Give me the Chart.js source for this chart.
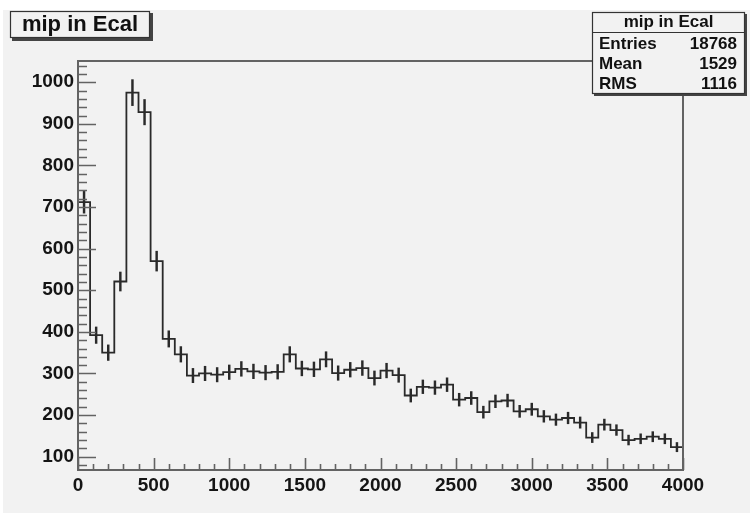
<!DOCTYPE html>
<html>
<head>
<meta charset="utf-8">
<title>mip in Ecal</title>
<script src="https://cdn.jsdelivr.net/npm/chart.js@4.4.1/dist/chart.umd.min.js"></script>
<style>
  html, body { margin: 0; padding: 0; background: #ffffff; }
  #wrap { width: 750px; height: 516px; }
</style>
</head>
<body>
<div id="wrap"><canvas id="myChart" width="750" height="516"></canvas></div>
<script>
// histogramme "mip in Ecal": 50 bins de 0 a 4000
const binWidth = 80;
const counts = [
    712, 392, 350, 521, 975, 928, 570, 383, 346, 295,
    300, 297, 303, 311, 305, 302, 304, 346, 312, 310,
    334, 301, 309, 313, 289, 307, 296, 247, 268, 266,
    273, 237, 241, 207, 233, 235, 209, 214, 197, 189,
    193, 182, 146, 177, 164, 140, 143, 148, 143, 123
];
const xTickLabels = [0, 500, 1000, 1500, 2000, 2500, 3000, 3500, 4000];
const yTickLabels = [100, 200, 300, 400, 500, 600, 700, 800, 900, 1000];
const statsRows = [['Entries', '18768'], ['Mean', '1529'], ['RMS', '1116']];
const histTitle = 'mip in Ecal';

// ligne en escalier: un point par bord gauche + le bord final
const stepPoints = counts.map((c, i) => ({ x: i * binWidth, y: c }));
stepPoints.push({ x: counts.length * binWidth, y: counts[counts.length - 1] });

// barres d'erreur sqrt(N) au centre de chaque bin
const errBars = counts.map((c, i) => ({
    x: i * binWidth + binWidth / 2,
    y: [c - Math.sqrt(c), c + Math.sqrt(c)]
}));

const FONT = '"Liberation Sans", Arial, Helvetica, sans-serif';
const INK = '#2a2a2a';

// fond, cadre, petites graduations, titre et boite de stats a la ROOT
const rootStyle = {
    id: 'rootStyle',
    beforeDraw(chart) {
        const c = chart.ctx;
        c.save();
        c.fillStyle = '#ffffff';
        c.fillRect(0, 0, chart.width, chart.height);
        c.fillStyle = '#f2f2f2';
        c.fillRect(3, 10, chart.width - 3, chart.height - 13);
        c.restore();
    },
    afterDatasetsDraw(chart) {
        const c = chart.ctx;
        const a = chart.chartArea;
        const xs = chart.scales.x, ys = chart.scales.y;
        c.save();
        c.strokeStyle = '#636363';
        c.lineWidth = 2;
        c.strokeRect(a.left, a.top, a.right - a.left, a.bottom - a.top);

        c.lineWidth = 1.6;
        c.beginPath();
        // graduations x (vers l'interieur)
        for (let v = 0; v <= 4000; v += 100) {
            const px = Math.round(xs.getPixelForValue(v)) + 0.5;
            const len = v % 500 === 0 ? 12 : 6;
            c.moveTo(px, a.bottom);
            c.lineTo(px, a.bottom - len);
        }
        // graduations y
        for (let v = 80; v <= 1040; v += 20) {
            const py = Math.round(ys.getPixelForValue(v)) + 0.5;
            const len = v % 100 === 0 ? 18 : 9;
            c.moveTo(a.left, py);
            c.lineTo(a.left + len, py);
        }
        c.stroke();
        c.restore();
    },
    afterDraw(chart) {
        const c = chart.ctx;
        c.save();
        // boite de titre
        c.fillStyle = '#444';
        c.fillRect(12, 13, 141, 28);
        c.fillStyle = '#f2f2f2';
        c.fillRect(10, 11, 140, 27);
        c.strokeStyle = '#333';
        c.lineWidth = 1.2;
        c.strokeRect(10.5, 11.5, 139, 26);
        c.fillStyle = '#111';
        c.font = 'bold 22px ' + FONT;
        c.textAlign = 'center';
        c.textBaseline = 'alphabetic';
        c.fillText(histTitle, 80, 31);

        // boite de statistiques
        const bx = 592, by = 12, bw = 153, bh = 82;
        c.fillStyle = '#444';
        c.fillRect(bx + 2, by + 2, bw, bh);
        c.fillStyle = '#f2f2f2';
        c.fillRect(bx, by, bw, bh);
        c.strokeStyle = '#333';
        c.lineWidth = 1.2;
        c.strokeRect(bx + 0.5, by + 0.5, bw - 1, bh - 1);
        c.beginPath();
        c.moveTo(bx, 32.5);
        c.lineTo(bx + bw, 32.5);
        c.stroke();
        c.fillStyle = '#111';
        c.font = 'bold 17px ' + FONT;
        c.textAlign = 'center';
        c.fillText(histTitle, bx + bw / 2, 27);
        statsRows.forEach((r, i) => {
            const yy = 49 + i * 20;
            c.textAlign = 'left';
            c.fillText(r[0], 599, yy);
            c.textAlign = 'right';
            c.fillText(r[1], 737, yy);
        });
        c.restore();
    }
};

const ctx = document.getElementById('myChart').getContext('2d');
const myChart = new Chart(ctx, {
    data: {
        datasets: [{
            type: 'line',
            label: histTitle,
            data: stepPoints,
            stepped: 'before',
            borderColor: INK,
            borderWidth: 1.8,
            pointRadius: 0,
            fill: false
        }, {
            type: 'bar',
            label: 'erreurs',
            data: errBars,
            backgroundColor: INK,
            borderWidth: 0,
            barThickness: 1.8
        }]
    },
    options: {
        responsive: false,
        animation: false,
        layout: { padding: { left: 0, top: 61, right: 67, bottom: 0 } },
        plugins: {
            legend: { display: false },
            title: { display: false },
            tooltip: { enabled: false }
        },
        scales: {
            x: {
                type: 'linear',
                min: 0,
                max: 4000,
                offset: false,
                grid: { display: false, drawTicks: false },
                border: { display: false },
                afterBuildTicks: s => { s.ticks = xTickLabels.map(v => ({ value: v })); },
                afterFit: s => { s.height = 46; },
                ticks: {
                    autoSkip: false,
                    maxRotation: 0,
                    padding: 4,
                    color: '#151515',
                    callback: v => String(v),
                    font: { family: FONT, size: 19, weight: 'bold' }
                }
            },
            y: {
                type: 'linear',
                min: 68,
                max: 1051,
                grid: { display: false, drawTicks: false },
                border: { display: false },
                afterBuildTicks: s => { s.ticks = yTickLabels.map(v => ({ value: v })); },
                afterFit: s => { s.width = 78; },
                ticks: {
                    padding: 4,
                    color: '#151515',
                    callback: v => String(v),
                    font: { family: FONT, size: 19, weight: 'bold' }
                }
            }
        }
    },
    plugins: [rootStyle]
});
</script>
</body>
</html>
